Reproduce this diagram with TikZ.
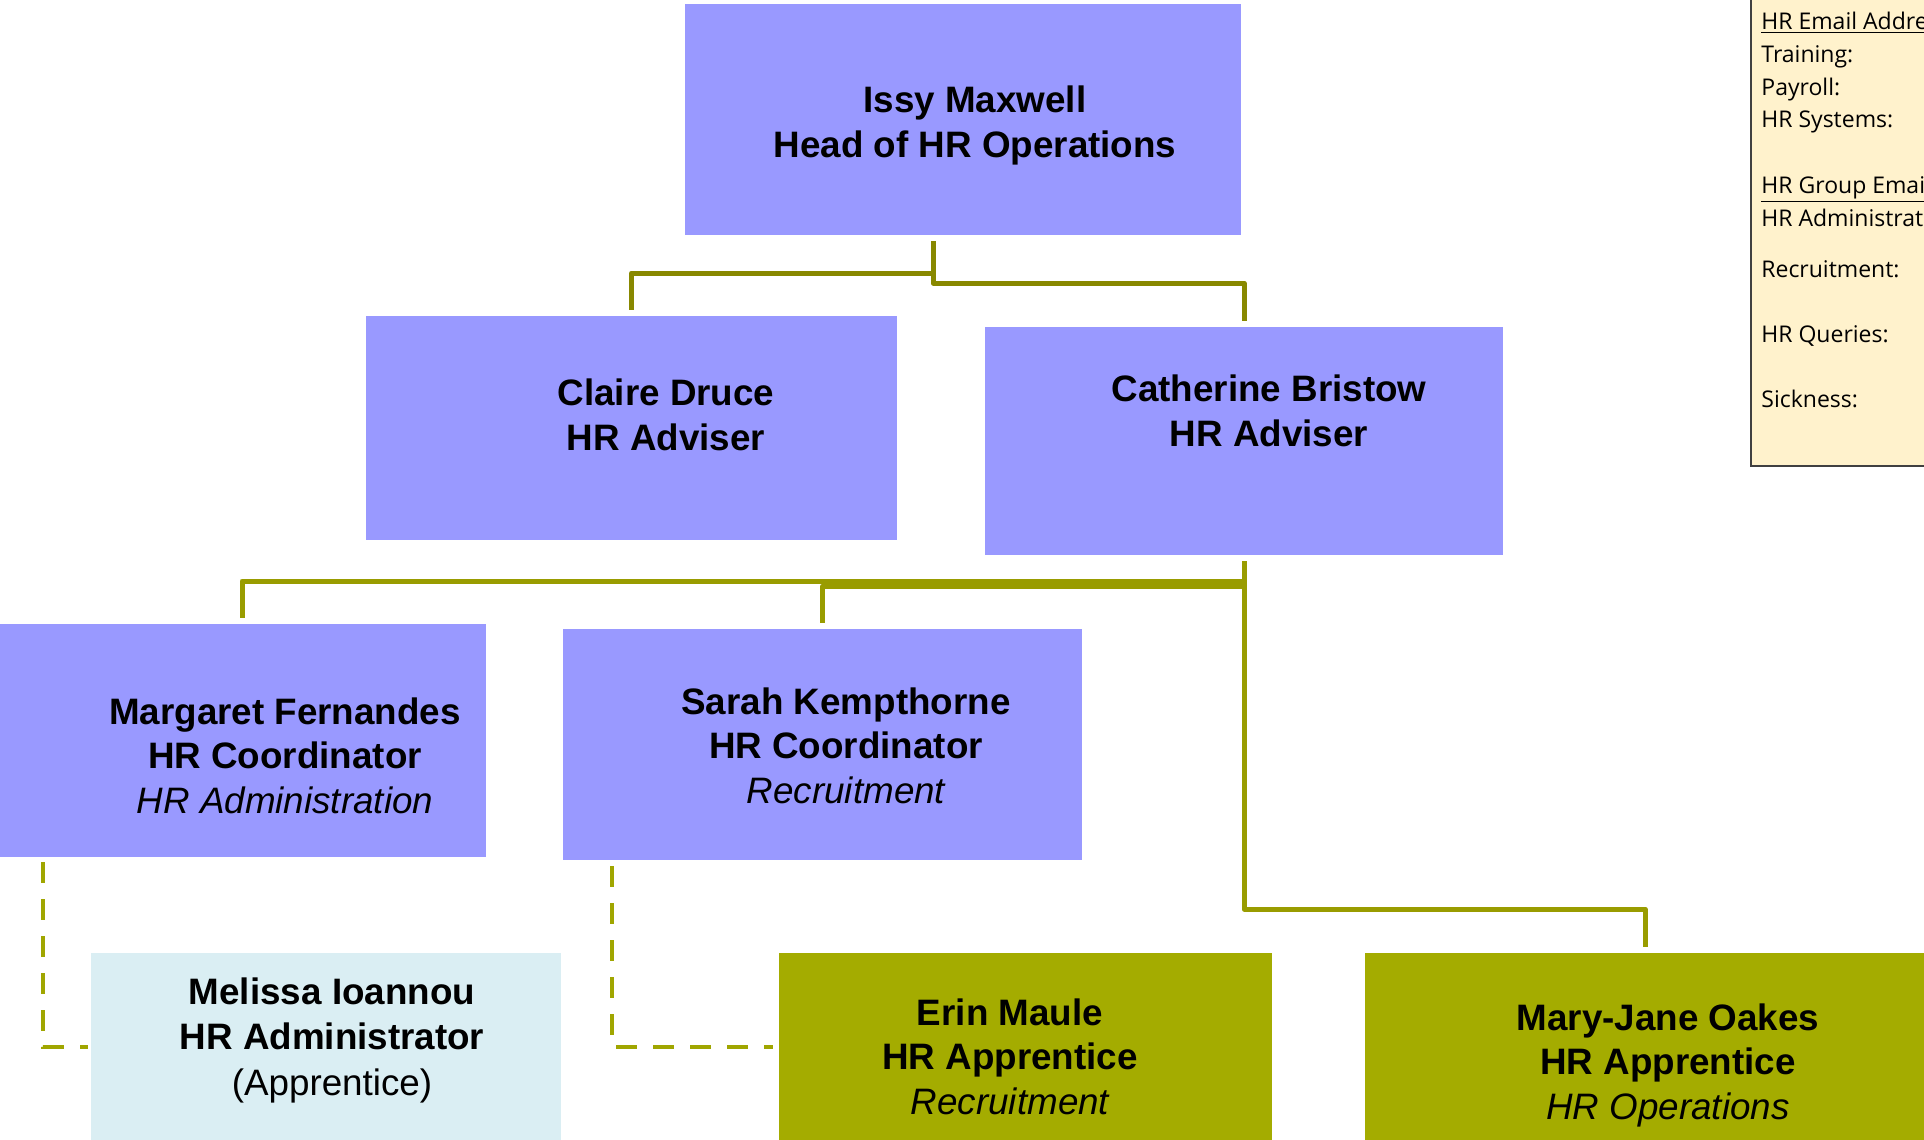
\documentclass[tikz,border=0pt]{standalone}
\usepackage{fontspec}
\setmainfont{Liberation Sans}
\newfontfamily\infofont{Open Sans}
\usetikzlibrary{fit,calc}
\definecolor{boxpurple}{HTML}{9999FF}
\definecolor{boxblue}{HTML}{DAEEF3}
\definecolor{boxgreen}{HTML}{A4AC00}
\definecolor{infofill}{HTML}{FFF2CC}
\definecolor{infoline}{HTML}{404040}
\definecolor{linea}{HTML}{888800}
\definecolor{lineb}{HTML}{999C00}
\definecolor{linec}{HTML}{A0A600}
\begin{document}
\begin{tikzpicture}[x=0.5pt,y=-0.5pt,
  orgbox/.style={inner sep=0pt, outer sep=0pt, draw=none, rectangle},
  purplebox/.style={orgbox, fill=boxpurple},
  bluebox/.style={orgbox, fill=boxblue},
  greenbox/.style={orgbox, fill=boxgreen},
  person/.style={align=center, inner sep=0pt, anchor=base,
    font=\fontsize{18.4}{22.25}\selectfont\bfseries},
  infotext/.style={anchor=base west, inner sep=0pt,
    font=\infofont\fontsize{11.5}{14}\selectfont},
  conna/.style={draw=linea, line width=2.5pt, line join=round, shorten <=3pt, shorten >=3pt},
  connb/.style={draw=lineb, line width=2.5pt, line join=round, shorten <=3pt, shorten >=3pt},
  dashconn/.style={draw=linec, line width=2pt, dash pattern=on 10.5pt off 8pt}
]
\useasboundingbox (0,0) rectangle (1924,1140);
\clip (0,0) rectangle (1924,1140);

% boxes
\node[purplebox, fit={(685,4) (1241,235)}] (issy) {};
\node[purplebox, fit={(366,316) (897,540)}] (claire) {};
\node[purplebox, fit={(985,327) (1503,555)}] (catherine) {};
\node[purplebox, fit={(-2,624) (486,857)}] (margaret) {};
\node[purplebox, fit={(563,629) (1082,860)}] (sarah) {};
\node[bluebox, fit={(91,953) (561,1160)}] (melissa) {};
\node[greenbox, fit={(779,953) (1272,1160)}] (erin) {};
\node[greenbox, fit={(1365,953) (1925,1160)}] (maryjane) {};
\node[orgbox, fill=infofill, draw=infoline, line width=1pt, fit={(1751,-10) (1960,466)}] (info) {};

% texts (anchored at the baseline of the last line)
\node[person] (issyT) at (975,157) {Issy Maxwell\\Head of HR Operations};
\node[person] (claireT) at (666,450) {Claire Druce\\HR Adviser};
\node[person] (catherineT) at (1269,446) {Catherine Bristow\\HR Adviser};
\node[person] (margaretT) at (285,813) {Margaret Fernandes\\HR Coordinator\\{\mdseries\itshape HR Administration}};
\node[person] (sarahT) at (846,803) {Sarah Kempthorne\\HR Coordinator\\{\mdseries\itshape Recruitment}};
\node[person, font=\fontsize{18.4}{22.75}\selectfont\bfseries] (melissaT) at (332,1095) {Melissa Ioannou\\HR Administrator\\{\mdseries (Apprentice)}};
\node[person] (erinT) at (1010,1114) {Erin Maule\\HR Apprentice\\{\mdseries\itshape Recruitment}};
\node[person] (maryjaneT) at (1668,1119) {Mary-Jane Oakes\\HR Apprentice\\{\mdseries\itshape HR Operations}};

% info panel
\node[infotext] (i1) at (1761,29) {\underline{HR Email Addresses}};
\node[infotext] (i2) at (1761,62) {Training:};
\node[infotext] (i3) at (1761,95) {Payroll:};
\node[infotext] (i4) at (1761,127) {HR Systems:};
\node[infotext] (i5) at (1761,193) {\underline{HR Group Email Addresses}};
\node[infotext] (i6) at (1761,226) {HR Administration:};
\node[infotext] (i7) at (1761,277) {Recruitment:};
\node[infotext] (i8) at (1761,342) {HR Queries:};
\node[infotext] (i9) at (1761,407) {Sickness:};

% junctions
\coordinate (jA) at (933,273);
\coordinate (jB) at (933,283);
\coordinate (kA) at (1244,581);
\coordinate (kB) at (1244,586);
\coordinate (kC) at (1244,909);
\coordinate (dA) at (43,1047);
\coordinate (dB) at (612,1047);

% connectors
\draw[conna] ([xshift=-15pt]issy.south) -- (jA) -| (claire.north);
\draw[conna] ([xshift=-15pt]issy.south) -- (jB) -| (catherine.north);
\draw[connb] (catherine.south) -- (kA) -| (margaret.north);
\draw[connb] (catherine.south) -- (kB) -| (sarah.north);
\draw[connb] (catherine.south) -- (kC) -| (maryjane.north);
\draw[dashconn, shorten <=2.5pt, shorten >=1.5pt] (margaret.south -| dA) -- (dA) -- (melissa.west |- dA);
\draw[dashconn, shorten <=3pt, shorten >=3pt] (sarah.south -| dB) -- (dB) -- (erin.west |- dB);
\end{tikzpicture}
\end{document}
